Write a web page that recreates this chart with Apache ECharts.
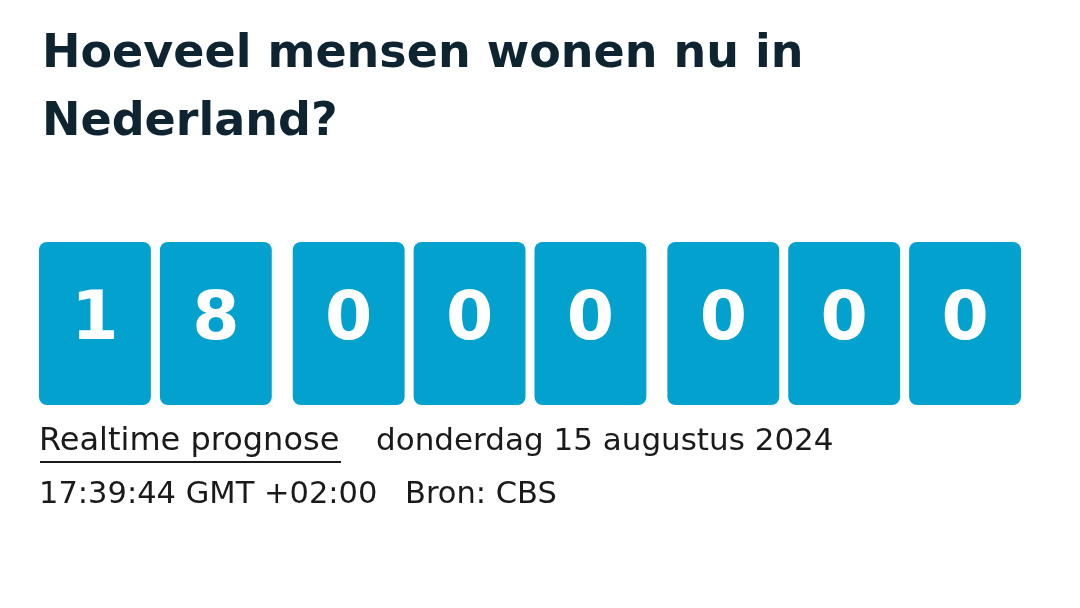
<!DOCTYPE html>
<html><head><meta charset="utf-8">
<script src="https://cdn.jsdelivr.net/npm/echarts@6/dist/echarts.min.js"></script>
<style>html,body{margin:0;background:#fff}#c{width:1080px;height:608px}</style>
</head><body><div id="c"></div>
<script>
const titleText = "Hoeveel mensen wonen nu in\nNederland?";
const population = 18000000;
const digits = ["1","8","0","0","0","0","0","0"];
const groups = [0,0,1,1,1,2,2,2];
const linkText = "Realtime prognose";
const dateText = "donderdag 15 augustus 2024";
const timeText = "17:39:44 GMT +02:00";
const sourceText = "Bron: CBS";

const data = digits.map((d,i)=>[i*121 + groups[i]*12, d]);
const chart = echarts.init(document.getElementById('c'));
const font = '"DejaVu Sans",sans-serif';
chart.setOption({
  animation:false,
  title:{text:titleText,left:37,top:16,textStyle:{fontFamily:font,fontSize:46,fontWeight:'bold',color:'#0e2431',lineHeight:68}},
  grid:{left:39,right:59,top:242,height:163},
  xAxis:{type:'value',min:-56,max:927,show:false},
  yAxis:{type:'value',min:0,max:1,show:false},
  series:[{type:'custom',data:data,
    renderItem:(params,api)=>{
      const c=api.coord([api.value(0),1]);const b=api.coord([api.value(0),0]);
      const w=api.size([112,0])[0];
      return {type:'group',children:[
        {type:'rect',shape:{x:c[0]-w/2,y:c[1],width:w,height:b[1]-c[1],r:8},style:{fill:'#03a1cd'}},
        {type:'text',style:{text:digits[params.dataIndex],x:c[0],y:(c[1]+b[1])/2-2,align:'center',verticalAlign:'middle',fill:'#fff',font:'bold 68px '+font}}
      ]};
    }}],
  graphic:[
    {type:'text',left:39,top:426,style:{text:linkText,font:'32px '+font,fill:'#1a1a1a'}},
    {type:'rect',shape:{x:40,y:461,width:301,height:2},style:{fill:'#1a1a1a'}},
    {type:'text',left:376,top:426,style:{text:dateText,font:'31px '+font,fill:'#1a1a1a'}},
    {type:'text',left:39,top:480,style:{text:timeText,font:'30.5px '+font,fill:'#1a1a1a'}},
    {type:'text',left:405,top:480,style:{text:sourceText,font:'30.5px '+font,fill:'#1a1a1a'}}
  ]
});
</script></body></html>
